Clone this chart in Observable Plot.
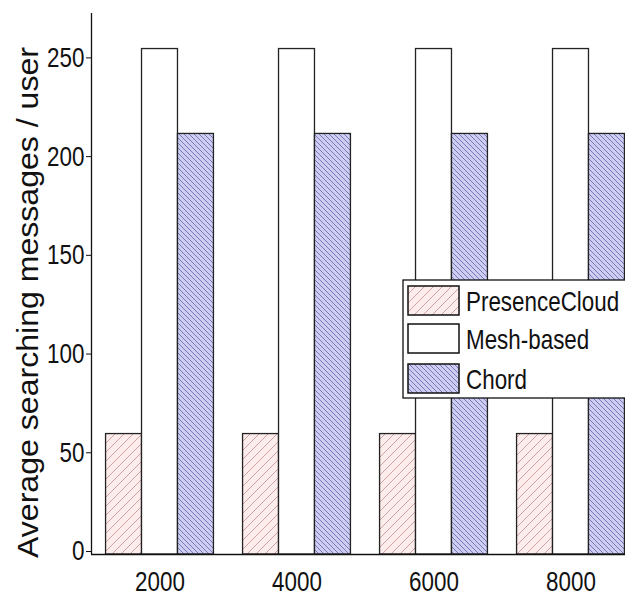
<!DOCTYPE html>
<html>
<head>
<meta charset="utf-8">
<script src="https://cdn.jsdelivr.net/npm/d3@7"></script>
<script src="https://cdn.jsdelivr.net/npm/@observablehq/plot@0.6"></script>
<style>
  html, body { margin: 0; padding: 0; background: #fff; }
  #wrap { width: 625px; height: 597px; overflow: hidden; position: relative; }
  #wrap > svg { max-width: none !important; height: 597px !important; }
</style>
</head>
<body>
<svg width="0" height="0" style="position:absolute">
  <defs>
    <pattern id="pcHatch" patternUnits="userSpaceOnUse" width="9" height="9">
      <rect width="9" height="9" fill="#fcecec"></rect>
      <path d="M-2,11 L11,-2 M-2,2 L2,-2 M7,11 L11,7" stroke="#c79a9a" stroke-width="0.9"></path>
    </pattern>
    <pattern id="chordHatch" patternUnits="userSpaceOnUse" width="5" height="5">
      <rect width="5" height="5" fill="#cdcdf1"></rect>
      <path d="M-1,-1 L6,6 M-1,4 L1,6 M4,-1 L6,1" stroke="#6e6eb4" stroke-width="0.9"></path>
    </pattern>
  </defs>
</svg>
<div id="wrap"></div>
<script>
const groups = [2000, 4000, 6000, 8000];
const series = ["PresenceCloud", "Mesh-based", "Chord"];
const presenceCloud = [61, 61, 61, 61];
const meshBased = [256, 256, 256, 256];
const chord = [213, 213, 213, 213];
const yTicks = [0, 50, 100, 150, 200, 250];
const yLabel = "Average searching messages / user";

const seriesValues = [presenceCloud, meshBased, chord];
const fills = {"PresenceCloud": "url(#pcHatch)", "Mesh-based": "#ffffff", "Chord": "url(#chordHatch)"};
const groupSpacing = 2000;
const bw = groupSpacing * 0.7875 / 3;

const data = groups.flatMap((g, i) => series.map((s, j) => ({group: g, series: s, j, value: seriesValues[j][i]})));

const sans = "'Liberation Sans', Arial, Helvetica, sans-serif";

const chart = Plot.plot({
  width: 639,
  height: 597,
  marginLeft: 91,
  marginRight: 0,
  marginTop: 13,
  marginBottom: 43,
  style: {background: "#fff", color: "#111"},
  x: {domain: [1000, 9000]},
  y: {domain: [0, 274]},
  color: {type: "identity"},
  marks: [
    Plot.rectY(data, {
      x1: d => d.group + (d.j - 1.5) * bw,
      x2: d => d.group + (d.j - 0.5) * bw,
      y1: 0,
      y2: "value",
      fill: d => fills[d.series],
      stroke: "#222",
      strokeWidth: 1.3
    }),
    Plot.ruleX([1000], {stroke: "#111", strokeWidth: 1.3}),
    Plot.ruleY([0], {stroke: "#111", strokeWidth: 1.3}),
    Plot.axisY({
      ticks: yTicks,
      tickSize: 5,
      tickPadding: 2,
      fontSize: 28,
      fontFamily: sans,
      dy: -3,
      label: null
    }),
    Plot.axisX({
      ticks: groups,
      tickSize: 0,
      tickPadding: 17,
      fontSize: 28,
      fontFamily: sans,
      tickFormat: d => String(d),
      label: null
    })
  ]
});

chart.style.maxWidth = "none";
chart.style.height = "597px";
document.getElementById("wrap").appendChild(chart);

const svg = d3.select(chart);

// Condense tick label glyphs to mimic a narrow font
function condense(sel, factor) {
  sel.each(function() {
    const len = this.getComputedTextLength();
    if (len > 0) {
      this.setAttribute("textLength", (len * factor).toFixed(1));
      this.setAttribute("lengthAdjust", "spacingAndGlyphs");
    }
  });
}
condense(svg.selectAll("g[aria-label='y-axis tick label'] text, g[aria-label='x-axis tick label'] text"), 0.8);

// Y axis title
svg.append("text")
  .attr("transform", "translate(38,558) rotate(-90)")
  .attr("text-anchor", "start")
  .attr("font-size", 30)
  .attr("font-family", sans)
  .attr("fill", "#111")
  .attr("textLength", 511)
  .attr("lengthAdjust", "spacingAndGlyphs")
  .text(yLabel);

// Legend
const lg = svg.append("g").attr("class", "legend").attr("text-anchor", "start");
lg.append("rect").attr("x", 403).attr("y", 280).attr("width", 300).attr("height", 118)
  .attr("fill", "#fff").attr("stroke", "#111").attr("stroke-width", 1.3);
const swY = [286, 324, 364];
series.forEach((s, i) => {
  lg.append("rect").attr("x", 408).attr("y", swY[i]).attr("width", 51).attr("height", 29)
    .attr("fill", fills[s]).attr("stroke", "#111").attr("stroke-width", 1.5);
  lg.append("text").attr("x", 466).attr("y", swY[i] + 25)
    .attr("font-size", 28).attr("font-family", sans).attr("fill", "#111")
    .attr("text-anchor", "start")
    .text(s);
});
condense(lg.selectAll("text"), 0.8);
</script>
</body>
</html>
